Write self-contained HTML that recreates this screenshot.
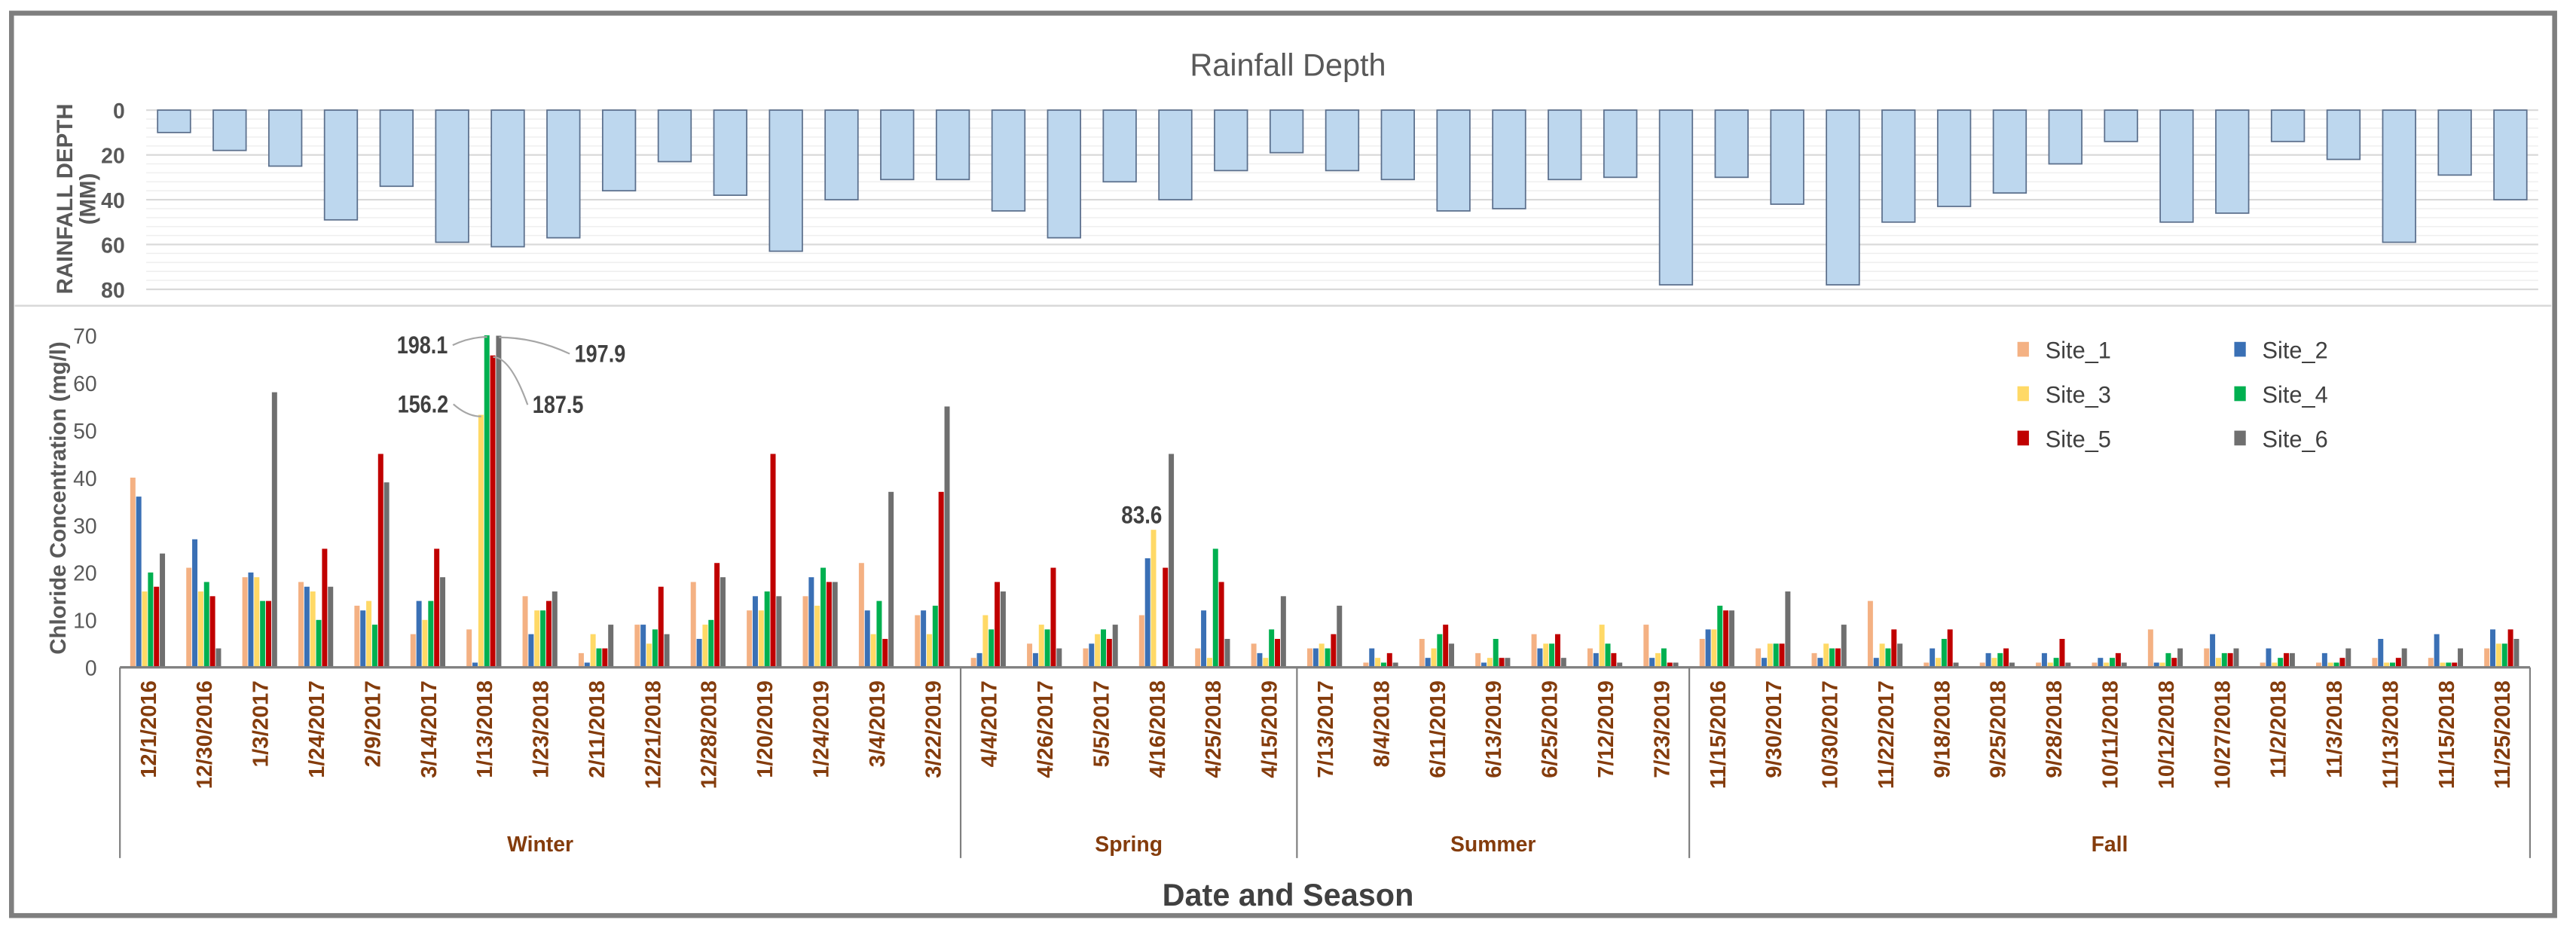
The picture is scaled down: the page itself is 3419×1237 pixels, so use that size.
<!DOCTYPE html>
<html><head><meta charset="utf-8"><style>
html,body{margin:0;padding:0;background:#fff;}
svg{display:block;font-family:"Liberation Sans",sans-serif;}
</style></head><body>
<svg id="chart" width="3419" height="1237" viewBox="0 0 1568 567" preserveAspectRatio="none" xmlns="http://www.w3.org/2000/svg">
<rect x="7" y="8" width="1548" height="549" fill="#fff" stroke="#7f7f7f" stroke-width="3"/>
<line x1="9" y1="186" x2="1553" y2="186" stroke="#d9d9d9" stroke-width="1.2"/>
<text x="784" y="46" text-anchor="middle" font-size="19" fill="#595959">Rainfall Depth</text>
<text transform="translate(44,121) rotate(-90)" text-anchor="middle" font-size="13.5" font-weight="bold" fill="#595959">RAINFALL DEPTH</text>
<text transform="translate(58,121) rotate(-90)" text-anchor="middle" font-size="13.5" font-weight="bold" fill="#595959">(MM)</text>
<text transform="translate(40,303) rotate(-90)" text-anchor="middle" font-size="13.5" font-weight="bold" fill="#595959">Chloride Concentration (mg/l)</text>
<text x="784" y="551" text-anchor="middle" font-size="19" font-weight="bold" fill="#404040">Date and Season</text>
<g id="g"></g>
</svg>
<script>
const dates=["12/1/2016","12/30/2016","1/3/2017","1/24/2017","2/9/2017","3/14/2017","1/13/2018","1/23/2018","2/11/2018","12/21/2018","12/28/2018","1/20/2019","1/24/2019","3/4/2019","3/22/2019","4/4/2017","4/26/2017","5/5/2017","4/16/2018","4/25/2018","4/15/2019","7/13/2017","8/4/2018","6/11/2019","6/13/2019","6/25/2019","7/12/2019","7/23/2019","11/15/2016","9/30/2017","10/30/2017","11/22/2017","9/18/2018","9/25/2018","9/28/2018","10/11/2018","10/12/2018","10/27/2018","11/2/2018","11/3/2018","11/13/2018","11/15/2018","11/25/2018"];
const seasons=["Winter","Spring","Summer","Fall"];
const seasonCounts=[15,6,7,15];
const rainfall=[10,18,25,49,34,59,61,57,36,23,38,63,40,31,31,45,57,32,40,27,19,27,31,45,44,31,30,78,30,42,78,50,43,37,24,14,50,46,14,22,59,29,40];
const rainTicks=[0,20,40,60,80];
const clTicks=[0,10,20,30,40,50,60,70];
const siteNames=["Site_1","Site_2","Site_3","Site_4","Site_5","Site_6"];
const site1=[40,21,19,18,13,7,8,15,3,9,18,12,15,22,11,2,5,4,11,4,5,4,1,6,3,7,4,9,6,4,3,14,1,1,1,1,8,4,1,1,2,2,4];
const site2=[36,27,20,17,12,14,1,7,1,9,6,15,19,12,12,3,3,5,23,12,3,4,4,2,1,4,3,2,8,2,2,2,4,3,3,2,1,7,4,3,6,7,8];
const site3=[16,16,19,16,14,10,156.2,12,7,5,9,12,13,7,7,11,9,7,29,2,2,5,2,4,2,5,9,3,8,5,5,5,2,2,1,1,1,2,1,1,1,1,5];
const site4=[20,18,14,10,9,14,198.1,12,4,8,10,16,21,14,13,8,8,8,0,25,8,4,1,7,6,5,5,4,13,5,4,4,6,3,2,2,3,3,2,1,1,1,5];
const site5=[17,15,14,25,45,25,187.5,14,4,17,22,45,18,6,37,18,21,6,21,18,6,7,3,9,2,7,3,1,12,5,4,8,8,4,6,3,2,3,3,2,2,1,8];
const site6=[24,4,58,17,39,19,197.9,16,9,7,19,15,18,37,55,16,4,9,45,6,15,13,1,5,2,2,1,1,12,16,9,5,1,1,1,1,4,4,3,4,4,4,6];
const colors=["#f4b183","#3a70b5","#ffd966","#00b050","#c00000","#6f6f6f"];
const annotations=[["198.1",3,6],["156.2",2,6],["187.5",4,6],["197.9",5,6],["83.6",2,18]];

const NS="http://www.w3.org/2000/svg";
const g=document.getElementById('g');
function el(tag,attrs,parent){const e=document.createElementNS(NS,tag);for(const k in attrs)e.setAttribute(k,attrs[k]);(parent||g).appendChild(e);return e;}
const N=dates.length;
const rx0=89,rx1=1545;
const rainY=v=>67+v*(176-67)/80;
const rainX=i=>rx0+(i+0.5)*(rx1-rx0)/N;
const cx0=73,cx1=1540;
const series=[site1,site2,site3,site4,site5,site6];
const maxV=Math.max(...series.flat());
// broken axis: values above 70 are compressed below the top
const disp=v=>v<=70?v:70-(maxV-v)*0.4;
const clY=v=>406-disp(v)*(406-204)/70;
const band=(cx1-cx0)/N;
const clX=i=>cx0+(i+0.5)*band;

for(let v=0;v<=80;v+=4){
  const ln=el('line',{x1:rx0,x2:rx1,y1:rainY(v),y2:rainY(v),stroke:v%20===0?'#d9d9d9':'#efefef','stroke-width':v%20===0?1:0.7});
  
  
}
rainTicks.forEach(t=>{
  const tx=el('text',{x:76,y:rainY(t)+5,'text-anchor':'end','font-size':13,'font-weight':'bold',fill:'#595959'});
  tx.textContent=t;
  
  
});
rainfall.forEach((v,i)=>{
  const r=el('rect',{x:rainX(i)-10,y:rainY(0),width:20,height:rainY(v)-rainY(0),fill:'#bdd7ee',stroke:'#5b6f8c','stroke-width':0.8});
  
  
});

clTicks.forEach(t=>{
  const tx=el('text',{x:59,y:clY(t)+5,'text-anchor':'end','font-size':13,fill:'#595959'});
  tx.textContent=t;
  
  
});
const bw=3.6;
const barX=(k,i)=>clX(i)+(k-3)*bw;
series.forEach((s,k)=>{
  s.forEach((v,i)=>{
    const r=el('rect',{x:barX(k,i),y:clY(v),width:bw-0.4,height:406-clY(v),fill:colors[k]});
    
    
  });
});
const ax=el('line',{x1:cx0,x2:cx1,y1:406,y2:406,stroke:'#7f7f7f','stroke-width':1.5});


dates.forEach((d,i)=>{
  const tx=el('text',{transform:`translate(${clX(i)+4.8},414) rotate(-90)`,'text-anchor':'end','font-size':13,'font-weight':'bold',fill:'#843c0c',textLength:d.length*6.6,lengthAdjust:'spacingAndGlyphs'});
  tx.textContent=d;
  
  
});
let start=0;
const bound=i=>cx0+i*band;
const t0=el('line',{x1:bound(0),x2:bound(0),y1:406,y2:522,stroke:'#7f7f7f','stroke-width':1});


seasons.forEach((s,j)=>{
  const end=start+seasonCounts[j];
  const ln=el('line',{x1:bound(end),x2:bound(end),y1:406,y2:522,stroke:'#7f7f7f','stroke-width':1});
  
  
  const tx=el('text',{x:(bound(start)+bound(end))/2,y:518,'text-anchor':'middle','font-size':13,'font-weight':'bold',fill:'#843c0c'});
  tx.textContent=s;
  
  
  start=end;
});
// annotations: [dx, dy, anchor, leader]
const annOff={"198.1":[-24,11,'end',1],"156.2":[-20,-1.5,'end',1],"187.5":[24,35,'start',1],"197.9":[46,16,'start',1],"83.6":[5,-4,'end',0]};
annotations.forEach(([lab,k,i])=>{
  const v=series[k][i];
  const bx=barX(k,i)+bw/2, by=clY(v);
  const o=annOff[lab];
  const tx=bx+o[0], ty=by+o[1];
  if(o[3]){
    const lx=o[2]==='end'?tx+3:tx-3, ly=ty-5;
    const p=el('path',{d:`M${bx},${by+1} Q${(bx+lx)/2},${by+1} ${lx},${ly}`,fill:'none',stroke:'#a6a6a6','stroke-width':1});
    
    
  }
  const t=el('text',{x:tx,y:ty,'text-anchor':o[2],'font-size':15,'font-weight':'bold',fill:'#404040',textLength:lab.length*6.2,lengthAdjust:'spacingAndGlyphs'});
  t.textContent=lab;
  
  
});
siteNames.forEach((n,k)=>{
  const col=k%2,row=Math.floor(k/2);
  const x=1228+col*132,y=217+row*27;
  const sq=el('rect',{x:x,y:y-9,width:7,height:9,fill:colors[k]});
  
  
  const t=el('text',{x:x+17,y:y+1,'font-size':14.5,fill:'#404040',textLength:40,lengthAdjust:'spacingAndGlyphs'});
  t.textContent=n;
  
  
});
</script>
</body></html>
